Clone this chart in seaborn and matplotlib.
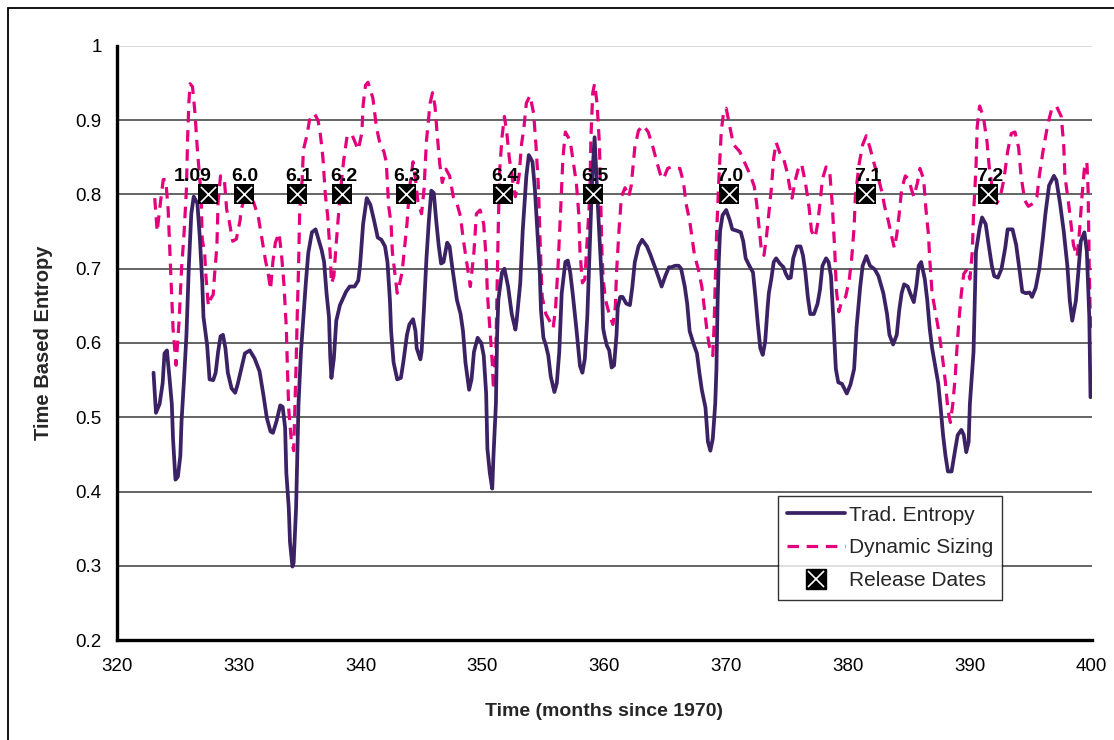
import matplotlib
matplotlib.use("Agg")
import matplotlib.pyplot as plt
import seaborn as sns
import pandas as pd
from matplotlib.lines import Line2D
from matplotlib.legend_handler import HandlerTuple
from matplotlib.patches import Rectangle

# ---------------- data ----------------
trad_month = [323.0, 323.2, 323.5, 323.75, 323.9, 324.1, 324.3, 324.5, 324.6, 324.8, 325.0, 325.2, 325.3, 325.5,
              325.7, 325.9, 326.1, 326.3, 326.6, 326.8, 327.0, 327.1, 327.4, 327.6, 327.9, 328.1, 328.3, 328.5,
              328.7, 328.9, 329.1, 329.4, 329.7, 329.9, 330.2, 330.5, 330.9, 331.3, 331.7, 332.0, 332.3, 332.6,
              332.8, 333.1, 333.4, 333.6, 333.8, 333.9, 334.1, 334.2, 334.4, 334.5, 334.7, 334.8, 334.9, 335.1,
              335.3, 335.5, 335.7, 336.0, 336.3, 336.5, 336.8, 337.0, 337.2, 337.4, 337.5, 337.6, 337.8, 338.0,
              338.3, 338.6, 338.8, 339.1, 339.5, 339.8, 339.95, 340.2, 340.5, 340.8, 341.1, 341.4, 341.7, 342.0,
              342.2, 342.4, 342.5, 342.7, 343.0, 343.3, 343.5, 343.8, 344.0, 344.3, 344.5, 344.6, 344.9, 345.0,
              345.2, 345.4, 345.6, 345.8, 346.0, 346.2, 346.4, 346.6, 346.8, 347.1, 347.3, 347.5, 347.7, 347.9,
              348.2, 348.4, 348.6, 348.9, 349.1, 349.3, 349.6, 349.9, 350.1, 350.3, 350.4, 350.6, 350.8, 350.9,
              351.1, 351.2, 351.3, 351.6, 351.8, 352.1, 352.4, 352.7, 352.8, 353.1, 353.3, 353.6, 353.8, 354.1,
              354.3, 354.5, 354.7, 354.8, 355.0, 355.2, 355.4, 355.6, 355.9, 356.1, 356.3, 356.5, 356.8, 357.0,
              357.2, 357.4, 357.7, 358.0, 358.2, 358.4, 358.6, 358.8, 359.0, 359.2, 359.4, 359.6, 359.8, 359.9,
              360.0, 360.2, 360.4, 360.6, 360.8, 361.0, 361.1, 361.3, 361.5, 361.8, 362.1, 362.3, 362.5, 362.8,
              363.1, 363.5, 363.8, 364.2, 364.5, 364.7, 365.0, 365.3, 365.5, 365.8, 366.1, 366.3, 366.6, 366.8,
              367.0, 367.3, 367.6, 367.8, 368.0, 368.3, 368.4, 368.5, 368.7, 368.9, 369.1, 369.2, 369.3, 369.4,
              369.5, 369.7, 370.0, 370.3, 370.5, 370.9, 371.2, 371.4, 371.6, 371.9, 372.2, 372.4, 372.6, 372.8,
              373.0, 373.2, 373.4, 373.5, 373.7, 373.9, 374.1, 374.4, 374.7, 374.9, 375.1, 375.3, 375.5, 375.8,
              376.1, 376.3, 376.5, 376.7, 376.9, 377.2, 377.5, 377.7, 377.9, 378.2, 378.4, 378.6, 378.8, 379.0,
              379.2, 379.5, 379.9, 380.2, 380.5, 380.7, 381.0, 381.2, 381.5, 381.8, 382.2, 382.5, 382.9, 383.2,
              383.4, 383.7, 384.0, 384.2, 384.4, 384.6, 384.9, 385.1, 385.4, 385.6, 385.8, 386.0, 386.3, 386.5,
              386.7, 386.9, 387.1, 387.4, 387.6, 387.8, 388.0, 388.2, 388.5, 388.8, 389.0, 389.3, 389.5, 389.7,
              389.9, 390.0, 390.3, 390.4, 390.5, 390.8, 391.0, 391.3, 391.5, 391.8, 392.0, 392.3, 392.6, 392.9,
              393.1, 393.5, 393.8, 394.1, 394.3, 394.6, 394.9, 395.1, 395.4, 395.7, 396.0, 396.2, 396.5, 396.9,
              397.1, 397.4, 397.7, 398.0, 398.2, 398.4, 398.7, 398.9, 399.1, 399.4, 399.6, 399.8, 399.9]
trad_value = [0.56, 0.506, 0.518, 0.546, 0.586, 0.59, 0.555, 0.518, 0.471, 0.416, 0.42, 0.448, 0.495, 0.55,
              0.61, 0.704, 0.774, 0.797, 0.788, 0.742, 0.681, 0.635, 0.597, 0.551, 0.55, 0.56, 0.588, 0.609,
              0.611, 0.593, 0.56, 0.539, 0.533, 0.544, 0.565, 0.586, 0.59, 0.579, 0.562, 0.532, 0.499, 0.481,
              0.479, 0.495, 0.516, 0.514, 0.486, 0.425, 0.378, 0.332, 0.299, 0.304, 0.378, 0.448, 0.518, 0.588,
              0.635, 0.681, 0.721, 0.749, 0.753, 0.742, 0.725, 0.709, 0.667, 0.635, 0.583, 0.553, 0.579, 0.63,
              0.651, 0.662, 0.669, 0.676, 0.676, 0.684, 0.704, 0.76, 0.795, 0.786, 0.765, 0.742, 0.739, 0.73,
              0.709, 0.658, 0.616, 0.574, 0.551, 0.553, 0.574, 0.611, 0.625, 0.632, 0.616, 0.593, 0.578, 0.588,
              0.648, 0.714, 0.765, 0.805, 0.802, 0.765, 0.732, 0.707, 0.709, 0.735, 0.73, 0.704, 0.681, 0.658,
              0.639, 0.616, 0.574, 0.537, 0.551, 0.588, 0.607, 0.6, 0.583, 0.532, 0.458, 0.425, 0.404, 0.448,
              0.518, 0.611, 0.658, 0.695, 0.7, 0.676, 0.639, 0.618, 0.63, 0.681, 0.751, 0.825, 0.853, 0.844,
              0.807, 0.751, 0.695, 0.644, 0.607, 0.597, 0.583, 0.555, 0.534, 0.546, 0.588, 0.667, 0.709, 0.711,
              0.695, 0.667, 0.62, 0.569, 0.56, 0.579, 0.635, 0.728, 0.821, 0.877, 0.807, 0.742, 0.681, 0.62,
              0.611, 0.597, 0.59, 0.567, 0.57, 0.611, 0.648, 0.662, 0.662, 0.653, 0.651, 0.676, 0.709, 0.73,
              0.739, 0.73, 0.718, 0.7, 0.686, 0.676, 0.69, 0.702, 0.702, 0.704, 0.704, 0.7, 0.676, 0.653,
              0.616, 0.6, 0.586, 0.56, 0.537, 0.513, 0.49, 0.467, 0.455, 0.471, 0.518, 0.565, 0.658, 0.714,
              0.751, 0.772, 0.779, 0.765, 0.753, 0.751, 0.749, 0.737, 0.714, 0.704, 0.695, 0.662, 0.625, 0.593,
              0.584, 0.602, 0.648, 0.667, 0.686, 0.709, 0.714, 0.707, 0.702, 0.693, 0.687, 0.688, 0.714, 0.73,
              0.73, 0.718, 0.695, 0.662, 0.639, 0.639, 0.653, 0.672, 0.704, 0.714, 0.709, 0.69, 0.63, 0.565,
              0.547, 0.545, 0.532, 0.544, 0.565, 0.621, 0.676, 0.704, 0.717, 0.704, 0.699, 0.69, 0.667, 0.639,
              0.611, 0.598, 0.611, 0.644, 0.667, 0.679, 0.676, 0.667, 0.655, 0.676, 0.704, 0.709, 0.686, 0.658,
              0.62, 0.593, 0.574, 0.546, 0.513, 0.476, 0.448, 0.427, 0.427, 0.457, 0.476, 0.483, 0.476, 0.453,
              0.467, 0.518, 0.588, 0.658, 0.723, 0.755, 0.769, 0.76, 0.737, 0.704, 0.69, 0.688, 0.7, 0.728,
              0.753, 0.753, 0.732, 0.695, 0.669, 0.667, 0.668, 0.662, 0.674, 0.7, 0.742, 0.774, 0.812, 0.825,
              0.819, 0.788, 0.751, 0.704, 0.657, 0.63, 0.657, 0.695, 0.737, 0.749, 0.723, 0.635, 0.527]

dyn_month = [323.1, 323.3, 323.5, 323.8, 324.0, 324.2, 324.4, 324.6, 324.85, 325.1, 325.3, 325.5, 325.7, 325.8,
             325.9, 326.0, 326.2, 326.4, 326.6, 326.9, 327.0, 327.2, 327.3, 327.5, 327.7, 327.9, 328.0, 328.2,
             328.3, 328.5, 328.8, 329.0, 329.2, 329.5, 329.8, 330.1, 330.2, 330.5, 330.8, 331.2, 331.6, 331.9,
             332.2, 332.4, 332.6, 332.8, 333.0, 333.3, 333.5, 333.7, 333.9, 334.0, 334.1, 334.3, 334.5, 334.6,
             334.7, 334.8, 334.9, 335.0, 335.2, 335.3, 335.6, 335.8, 336.2, 336.5, 336.7, 336.9, 337.1, 337.3,
             337.5, 337.6, 337.8, 338.0, 338.3, 338.6, 338.9, 339.3, 339.8, 340.1, 340.2, 340.4, 340.6, 341.0,
             341.3, 341.6, 341.9, 342.1, 342.3, 342.5, 342.6, 342.8, 343.0, 343.2, 343.4, 343.6, 343.8, 344.0,
             344.3, 344.5, 344.7, 345.0, 345.2, 345.4, 345.7, 345.9, 346.1, 346.3, 346.5, 346.7, 347.0, 347.3,
             347.6, 347.9, 348.2, 348.4, 348.7, 348.9, 349.0, 349.3, 349.5, 349.8, 350.1, 350.3, 350.4, 350.6,
             350.8, 350.9, 351.1, 351.2, 351.3, 351.4, 351.6, 351.8, 352.0, 352.2, 352.5, 352.7, 353.0, 353.2,
             353.4, 353.6, 353.9, 354.2, 354.4, 354.6, 354.7, 354.8, 354.9, 355.2, 355.5, 355.8, 356.0, 356.2,
             356.4, 356.6, 356.8, 357.2, 357.4, 357.7, 357.9, 358.0, 358.2, 358.4, 358.6, 358.8, 358.9, 359.05,
             359.2, 359.4, 359.6, 359.7, 359.8, 359.9, 360.1, 360.4, 360.7, 360.9, 361.0, 361.2, 361.4, 361.7,
             362.0, 362.2, 362.5, 362.8, 363.2, 363.6, 364.0, 364.3, 364.7, 364.9, 365.2, 365.5, 365.9, 366.2,
             366.5, 366.7, 367.0, 367.2, 367.4, 367.7, 368.0, 368.2, 368.4, 368.6, 368.9, 369.0, 369.1, 369.2,
             369.4, 369.6, 369.8, 370.0, 370.3, 370.6, 371.1, 371.3, 371.6, 372.0, 372.3, 372.5, 372.7, 372.9,
             373.1, 373.3, 373.5, 373.7, 373.9, 374.1, 374.4, 374.7, 375.0, 375.2, 375.4, 375.7, 376.0, 376.2,
             376.5, 376.8, 377.0, 377.3, 377.5, 377.7, 377.9, 378.2, 378.5, 378.7, 378.9, 379.05, 379.25, 379.5,
             379.8, 380.1, 380.3, 380.5, 380.6, 380.9, 381.2, 381.5, 381.8, 382.1, 382.5, 382.8, 383.0, 383.3,
             383.6, 383.8, 384.0, 384.2, 384.4, 384.7, 385.0, 385.2, 385.4, 385.7, 385.9, 386.2, 386.4, 386.6,
             386.7, 386.9, 387.2, 387.5, 387.8, 388.0, 388.2, 388.4, 388.6, 388.8, 388.9, 389.1, 389.3, 389.5,
             389.8, 390.0, 390.2, 390.3, 390.5, 390.6, 390.8, 391.1, 391.4, 391.6, 391.9, 392.2, 392.5, 392.8,
             393.1, 393.4, 393.7, 394.0, 394.2, 394.5, 394.8, 395.2, 395.5, 395.7, 396.0, 396.4, 396.7, 397.1,
             397.5, 397.7, 397.8, 398.1, 398.3, 398.5, 398.8, 399.0, 399.2, 399.4, 399.6, 399.7, 399.8, 399.9]
dyn_value = [0.795, 0.75, 0.78, 0.82, 0.82, 0.78, 0.7, 0.62, 0.57, 0.63, 0.7, 0.746, 0.807, 0.877,
             0.923, 0.949, 0.945, 0.91, 0.86, 0.8, 0.74, 0.72, 0.69, 0.65, 0.66, 0.665, 0.69, 0.73,
             0.79, 0.825, 0.823, 0.78, 0.765, 0.737, 0.74, 0.765, 0.78, 0.797, 0.797, 0.79, 0.77, 0.74,
             0.71, 0.695, 0.672, 0.71, 0.735, 0.748, 0.72, 0.68, 0.62, 0.56, 0.51, 0.47, 0.455, 0.51,
             0.57, 0.64, 0.7, 0.78, 0.82, 0.86, 0.88, 0.9, 0.909, 0.9, 0.88, 0.85, 0.8, 0.77,
             0.72, 0.68, 0.69, 0.735, 0.797, 0.845, 0.88, 0.88, 0.86, 0.883, 0.92, 0.947, 0.951, 0.93,
             0.89, 0.867, 0.858, 0.844, 0.784, 0.76, 0.723, 0.695, 0.667, 0.68, 0.695, 0.727, 0.76, 0.807,
             0.844, 0.82, 0.79, 0.774, 0.807, 0.872, 0.923, 0.937, 0.919, 0.877, 0.84, 0.816, 0.834, 0.825,
             0.797, 0.788, 0.77, 0.742, 0.709, 0.686, 0.676, 0.723, 0.774, 0.779, 0.76, 0.714, 0.667, 0.62,
             0.574, 0.537, 0.593, 0.68, 0.76, 0.83, 0.877, 0.905, 0.882, 0.849, 0.816, 0.797, 0.825, 0.867,
             0.89, 0.923, 0.933, 0.909, 0.863, 0.807, 0.751, 0.704, 0.662, 0.639, 0.63, 0.62, 0.648, 0.704,
             0.774, 0.849, 0.884, 0.872, 0.849, 0.816, 0.774, 0.723, 0.681, 0.686, 0.742, 0.797, 0.877, 0.937,
             0.949, 0.923, 0.867, 0.797, 0.723, 0.686, 0.658, 0.639, 0.625, 0.648, 0.695, 0.751, 0.797, 0.809,
             0.797, 0.811, 0.863, 0.886, 0.893, 0.884, 0.863, 0.844, 0.821, 0.823, 0.835, 0.837, 0.835, 0.835,
             0.816, 0.788, 0.765, 0.742, 0.718, 0.7, 0.676, 0.648, 0.62, 0.597, 0.583, 0.62, 0.681, 0.742,
             0.821, 0.886, 0.912, 0.916, 0.891, 0.867, 0.858, 0.851, 0.84, 0.825, 0.811, 0.788, 0.756, 0.723,
             0.718, 0.742, 0.774, 0.807, 0.849, 0.87, 0.856, 0.849, 0.83, 0.811, 0.795, 0.821, 0.84, 0.84,
             0.816, 0.783, 0.751, 0.742, 0.76, 0.788, 0.821, 0.837, 0.83, 0.788, 0.728, 0.67, 0.642, 0.658,
             0.662, 0.685, 0.714, 0.756, 0.797, 0.84, 0.867, 0.879, 0.863, 0.844, 0.821, 0.802, 0.784, 0.765,
             0.742, 0.728, 0.746, 0.774, 0.807, 0.825, 0.82, 0.807, 0.797, 0.816, 0.835, 0.821, 0.779, 0.746,
             0.714, 0.667, 0.639, 0.611, 0.574, 0.546, 0.509, 0.493, 0.518, 0.555, 0.583, 0.63, 0.667, 0.693,
             0.7, 0.686, 0.723, 0.774, 0.835, 0.891, 0.919, 0.905, 0.872, 0.835, 0.802, 0.788, 0.797, 0.821,
             0.858, 0.882, 0.884, 0.863, 0.825, 0.792, 0.784, 0.788, 0.797, 0.825, 0.858, 0.895, 0.914, 0.919,
             0.905, 0.867, 0.825, 0.788, 0.76, 0.732, 0.716, 0.751, 0.797, 0.835, 0.844, 0.807, 0.70, 0.62]

release_month = [327.5, 330.4, 334.8, 338.5, 343.7, 351.7, 359.1, 370.2, 381.5, 391.5]
release_labels = ["1.09", "6.0", "6.1", "6.2", "6.3", "6.4", "6.5", "7.0", "7.1", "7.2"]
release_value = [0.8] * len(release_month)

x_ticks = [320, 330, 340, 350, 360, 370, 380, 390, 400]
y_ticks = [0.2, 0.3, 0.4, 0.5, 0.6, 0.7, 0.8, 0.9, 1.0]
y_ticklabels = ["0.2", "0.3", "0.4", "0.5", "0.6", "0.7", "0.8", "0.9", "1"]

# ---------------- plotting ----------------
sns.set_theme(style="white")
plt.rcParams['font.family'] = ['Liberation Sans', 'DejaVu Sans']

trad_df = pd.DataFrame({"month": trad_month, "value": trad_value})
dyn_df = pd.DataFrame({"month": dyn_month, "value": dyn_value})
rel_df = pd.DataFrame({"month": release_month, "value": release_value, "label": release_labels})

fig = plt.figure(figsize=(11.14, 7.40), dpi=100)
ax = fig.add_axes([0.105, 0.135, 0.875, 0.803])

TRAD_C = "#3b2265"
DYN_C = "#e4007c"

# gridlines
for yv in y_ticks[1:]:
    col = "#d0d0d0" if yv == 1.0 else "#3a3a3a"
    ax.axhline(yv, color=col, lw=1.1, zorder=1)

sns.lineplot(data=dyn_df, x="month", y="value", ax=ax, color=DYN_C, lw=2.3,
             estimator=None, sort=False, zorder=3)
ax.lines[-1].set_dashes([3.6, 2.4])
sns.lineplot(data=trad_df, x="month", y="value", ax=ax, color=TRAD_C, lw=2.7,
             estimator=None, sort=False, zorder=4)

sns.scatterplot(data=rel_df, x="month", y="value", ax=ax, marker="s", s=200,
                color="black", edgecolor="black", linewidth=0, zorder=5)
ax.scatter(rel_df["month"], rel_df["value"], marker="x", s=120, color="white",
           linewidths=1.2, zorder=6)

for i, row in rel_df.iterrows():
    dx = -11 if row["label"] == "1.09" else 1
    ax.annotate(row["label"], (row["month"], row["value"]), xytext=(dx, 7),
                textcoords="offset points", ha="center", va="bottom",
                fontsize=14, fontweight="bold", color="black", zorder=7)

ax.set_xlim(320, 400)
ax.set_ylim(0.2, 1.0)
ax.set_xticks(x_ticks)
ax.set_xticklabels([str(t) for t in x_ticks])
ax.set_yticks(y_ticks)
ax.set_yticklabels(y_ticklabels)
ax.tick_params(axis="both", direction="out", length=6, width=2.2, color="black",
               labelsize=13.5, labelcolor="black", pad=5)
ax.tick_params(axis="x", pad=7)

for s in ["top", "right"]:
    ax.spines[s].set_visible(False)
for s in ["left", "bottom"]:
    ax.spines[s].set_color("black")
    ax.spines[s].set_linewidth(2.4)
ax.set_facecolor("white")

ax.set_xlabel("Time (months since 1970)", fontsize=14, fontweight="bold", labelpad=20)
ax.set_ylabel("Time Based Entropy", fontsize=14.5, fontweight="bold", labelpad=16)

# legend
h_trad = Line2D([], [], color=TRAD_C, lw=2.7)
h_dyn = Line2D([], [], color=DYN_C, lw=2.3, dashes=[3.6, 2.4])
h_sq = Line2D([], [], marker="s", ls="none", color="black", markersize=14)
h_x = Line2D([], [], marker="x", ls="none", color="white", markersize=11, mew=1.2)
leg = ax.legend([h_trad, h_dyn, (h_sq, h_x)],
                ["Trad. Entropy", "Dynamic Sizing", "Release Dates"],
                handler_map={tuple: HandlerTuple(ndivide=1, pad=0)},
                loc="upper left", bbox_to_anchor=(0.678, 0.242), frameon=True,
                fancybox=False, edgecolor="black", fontsize=15,
                handlelength=2.75, handletextpad=0.2, borderpad=0.45,
                labelspacing=0.66, borderaxespad=0)
leg.get_frame().set_linewidth(1.0)
leg.set_zorder(8)

# outer frame
fig.patches.append(Rectangle((8 / 1114, -0.05), 1.1, 0.05 + 732 / 740,
                             transform=fig.transFigure, fill=False,
                             edgecolor="black", lw=1.3))

fig.savefig("out.png", dpi=100, facecolor="white")
